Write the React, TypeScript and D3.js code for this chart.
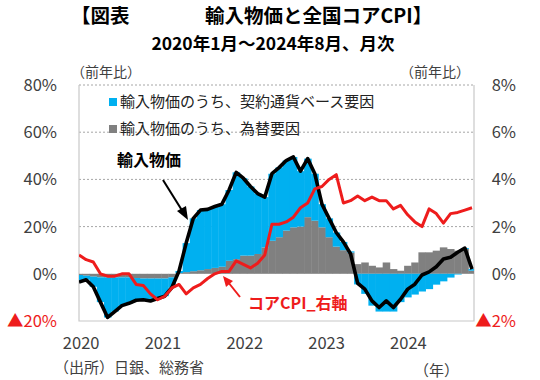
import React from "react";
import * as d3 from "d3";

// ---- data (monthly, 2020-01 .. 2024-08) ----
const yearLabels = ["2020", "2021", "2022", "2023", "2024"];
const leftTicks = [80, 60, 40, 20, 0, -20];
const rightTicks = [8, 6, 4, 2, 0, -2];
const gridValues = [20, 40, 60, 80];

// 輸入物価（円ベース、前年比 %）
const importPrice = [
  -3.5, -2.5, -5.5, -12, -18.5, -16, -13.5, -12.5, -11.2, -11, -11.5, -10.5,
  -9.5, -5.8, 1.2, 13, 23.5, 27, 27.3, 28.5, 29.5, 35.5, 43, 40.5,
  37, 34, 32.5, 42.4, 45, 48, 49.5, 43.5, 48.8, 42.4, 29.5, 23.5,
  17.5, 13.5, 8.5, -4, -6.5, -11.5, -14.3, -11.5, -14.3, -10.8, -6.5, -4.4,
  -0.5, 0.8, 3, 6.3, 7, 9.1, 10.9, 2,
];
// 為替要因（寄与度）
const fxFactor = [
  -0.5, -0.8, -1.2, -1.5, -1.5, -1.5, -1.5, -1.5, -1.8, -2, -2, -2,
  -2, -1.5, 0.3, 0.7, 1.1, 1.5, 2, 2.5, 3, 5.5, 6.2, 7.7,
  7.7, 8.4, 11.2, 14, 15.5, 18.3, 19.7, 20, 24, 22.5, 19.7, 15.5,
  11.5, 10, 9, 4.1, 4.8, 3.4, 2.7, 4.8, 2, 1.3, 3.4, 4.8,
  9.1, 9.1, 9.8, 11.2, 10.5, 9.8, 10.5, 1.3,
];
// 契約通貨ベース要因（寄与度）
const contractFactor = [
  -3, -1.7, -4.3, -10.5, -17, -14.5, -12, -11, -9.4, -9, -9.5, -8.5,
  -7.5, -4.3, 0.9, 12.3, 22.4, 25.5, 25.3, 26, 26.5, 30, 36.8, 32.8,
  29.3, 25.6, 21.3, 28.4, 29.6, 29.7, 29.8, 23.5, 24.8, 19.9, 9.8, 8,
  6, 3.5, 0.5, -4.5, -8.5, -13.5, -16, -16, -16, -12, -10, -8.8,
  -7.5, -6.5, -4.6, -3.2, -1.6, -0.3, 0.4, 0.7,
];
// 全国コアCPI（前年比 %）右軸
const coreCPI = [
  0.8, 0.6, 0.5, 0, -0.1, -0.1, 0, 0, -0.45, -0.5, -0.85, -1.1,
  -0.95, -0.6, -0.45, -0.85, -0.6, -0.45, -0.2, 0, 0.1, 0.1, 0.55, 0.4,
  0.25, 0.45, 0.8, 2.1, 2.1, 2.2, 2.4, 2.8, 3.0, 3.6, 3.7, 4.0,
  4.2, 3.0, 3.1, 3.3, 3.1, 3.25, 3.1, 3.1, 2.75, 2.9, 2.5, 2.2,
  2.0, 2.75, 2.55, 2.15, 2.55, 2.6, 2.7, 2.8,
];

const months = d3.timeMonths(new Date(2020, 0, 1), new Date(2024, 8, 1));

const FONT = "'Noto Sans CJK JP', 'Noto Sans', sans-serif";
const BLUE = "#00B0F0";
const GRAY = "#808080";
const RED = "#EE1C1C";

export default function App() {
  const W = 540;
  const H = 380;
  const plot = { left: 79, right: 474, top: 85, bottom: 321 };

  const x = d3
    .scaleLinear()
    .domain([0, months.length - 1])
    .range([plot.left, plot.right - 2]);
  const yL = d3.scaleLinear().domain([-20, 80]).range([plot.bottom, plot.top]);
  const yR = d3.scaleLinear().domain([-2, 8]).range([plot.bottom, plot.top]);

  const rows = months.map((m, i) => ({
    i,
    fx: fxFactor[i],
    contract: contractFactor[i],
  }));
  const stack = d3
    .stack<any>()
    .keys(["fx", "contract"])
    .offset(d3.stackOffsetDiverging);
  const series = stack(rows);
  const bw = x(1) - x(0);

  const lineL = d3
    .line<number>()
    .x((_, i) => x(i))
    .y((v) => yL(v))
    .curve(d3.curveLinear);
  const lineR = d3
    .line<number>()
    .x((_, i) => x(i))
    .y((v) => yR(v));

  const labelScale = d3
    .scaleLinear()
    .domain([0, yearLabels.length - 1])
    .range([x(0.3), x(46.1)]);

  const axisColor = "#404040";

  return (
    <svg width={W} height={H} style={{ display: "block", position: "absolute", left: 0, top: 0 }} fontFamily={FONT}>
      <rect width={W} height={H} fill="#fff" />
      <defs>
        <clipPath id="plotClip">
          <rect x={plot.left} y={plot.top} width={plot.right - plot.left} height={plot.bottom - plot.top} />
        </clipPath>
      </defs>

      {/* title */}
      <text x={71} y={23} fontSize={19.5} fontWeight={700} fill="#000">【図表</text>
      <text x={205} y={23} fontSize={19.5} fontWeight={700} fill="#000">輸入物価と全国コアCPI】</text>
      <text x={273} y={49.5} fontSize={17.5} fontWeight={700} fill="#000" textAnchor="middle">
        2020年1月～2024年8月、月次
      </text>

      {/* unit labels */}
      <text x={71} y={77} fontSize={14} fill={axisColor}>（前年比）</text>
      <text x={400} y={77} fontSize={14} fill={axisColor}>（前年比）</text>

      {/* gridlines */}
      {gridValues.map((g) => (
        <line key={g} x1={plot.left} x2={plot.right} y1={yL(g)} y2={yL(g)} stroke="#a6a6a6" strokeDasharray="2,2" strokeWidth={1} />
      ))}
      {/* plot border (left, right, bottom) */}
      <path
        d={`M${plot.left},${plot.top}V${plot.bottom}H${plot.right}V${plot.top}`}
        fill="none"
        stroke="#c8c8c8"
        strokeWidth={1.2}
      />

      {/* stacked bars */}
      <g clipPath="url(#plotClip)">
        {series.map((s) => (
          <g key={s.key} fill={s.key === "fx" ? GRAY : BLUE}>
            {s.map((d, i) => {
              const y0 = yL(d[0]);
              const y1 = yL(d[1]);
              return (
                <rect
                  key={i}
                  x={x(i) - bw / 2}
                  width={bw + 0.4}
                  y={Math.min(y0, y1)}
                  height={Math.abs(y1 - y0)}
                />
              );
            })}
          </g>
        ))}
        <path d={lineL(importPrice) || ""} fill="none" stroke="#000" strokeWidth={3.6} strokeLinejoin="round" />
        <path d={lineR(coreCPI) || ""} fill="none" stroke={RED} strokeWidth={3} strokeLinejoin="round" />
      </g>

      {/* left axis labels */}
      {leftTicks.map((t) => (
        <text
          key={t}
          x={57}
          y={yL(t) + 6}
          fontSize={16.5}
          textAnchor="end"
          fill={t < 0 ? RED : axisColor}
        >
          {t < 0 ? `▲${-t}%` : `${t}%`}
        </text>
      ))}
      {/* right axis labels */}
      {rightTicks.map((t) => (
        <text
          key={t}
          x={516}
          y={yR(t) + 6}
          fontSize={16.5}
          textAnchor="end"
          fill={t < 0 ? RED : axisColor}
        >
          {t < 0 ? `▲${-t}%` : `${t}%`}
        </text>
      ))}

      {/* x labels */}
      {yearLabels.map((yl, i) => (
        <text key={yl} x={labelScale(i)} y={349} fontSize={16.5} textAnchor="middle" fill={axisColor}>
          {yl}
        </text>
      ))}
      <text x={54} y={373} fontSize={15} fill={axisColor}>（出所）日銀、総務省</text>
      <text x={414} y={376} fontSize={15} fill={axisColor}>（年）</text>

      {/* legend */}
      <rect x={109} y={98} width={8} height={8} fill={BLUE} />
      <text x={120} y={107} fontSize={15} fill="#222">輸入物価のうち、契約通貨ベース要因</text>
      <rect x={109} y={125} width={8} height={8} fill={GRAY} />
      <text x={120} y={134} fontSize={15} fill="#222">輸入物価のうち、為替要因</text>

      {/* annotations */}
      <text x={117} y={166} fontSize={16} fontWeight={700} fill="#000">輸入物価</text>
      <line x1={163} y1={180} x2={183} y2={212} stroke="#000" strokeWidth={2} />
      <path d="M188,220 L177,211 L186,206 Z" fill="#000" />

      <text x={248} y={309} fontSize={16} fontWeight={700} fill={RED}>コアCPI_右軸</text>
      <line x1={240} y1={297} x2={228} y2={282} stroke={RED} strokeWidth={2} />
      <path d="M223,276 L233,281 L226,287 Z" fill={RED} />
    </svg>
  );
}
